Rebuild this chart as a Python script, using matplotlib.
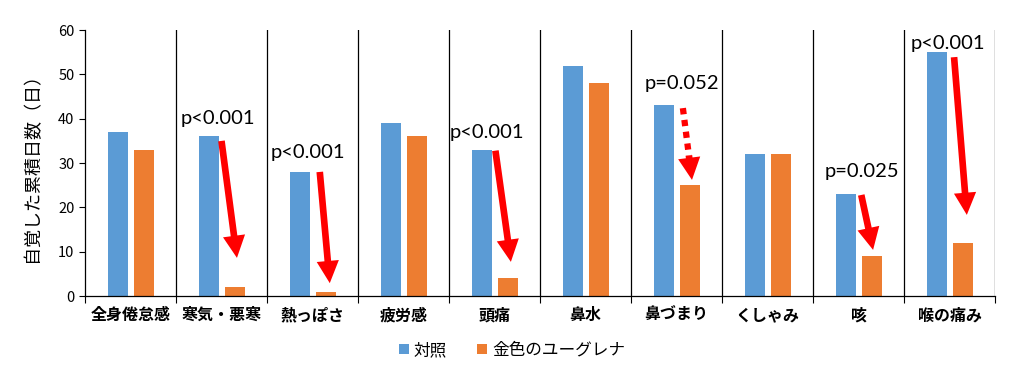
import matplotlib
matplotlib.use("Agg")
import matplotlib.pyplot as plt
import numpy as np
from matplotlib.patches import FancyArrowPatch

plt.rcParams['font.family'] = ['Noto Sans CJK JP', 'DejaVu Sans']

categories = ['全身倦怠感', '寒気・悪寒', '熱っぽさ', '疲労感', '頭痛', '鼻水', '鼻づまり', 'くしゃみ', '咳', '喉の痛み']
control = [37, 36, 28, 39, 33, 52, 43, 32, 23, 55]
euglena = [33, 2, 1, 36, 4, 48, 25, 32, 9, 12]
series_names = ['対照', '金色のユーグレナ']

# significance annotations
sig_cats = [1, 2, 4, 6, 8, 9]
sig_labels = ['p<0.001', 'p<0.001', 'p<0.001', 'p=0.052', 'p=0.025', 'p<0.001']
sig_text_y = [40, 32.3, 37, 48, 28.2, 57]
arrow_start = [35, 28, 32.8, 42.4, 22.8, 53.9]
arrow_end = [8.6, 2.9, 7.7, 26.2, 10.4, 18.3]
arrow_dotted = [False, False, False, True, False, False]

blue = '#5B9BD5'
orange = '#ED7D31'
red = '#FF0000'

fig = plt.figure(figsize=(10.14, 3.72), dpi=100)
ax = fig.add_axes([0.0838, 0.2043, 0.8975, 0.7147])

x = np.arange(len(categories)) + 0.5
w = 0.22
ax.bar(x - 0.135, control, width=w, color=blue, label=series_names[0], zorder=2)
ax.bar(x + 0.145, euglena, width=w, color=orange, label=series_names[1], zorder=2)

ax.set_xlim(0, len(categories))
ax.set_ylim(0, 60)
ax.set_yticks(range(0, 61, 10))
ax.tick_params(axis='y', labelsize=10.5, length=4, width=0.8)
ax.set_xticks(np.arange(len(categories) + 1))
ax.set_xticklabels([])
ax.tick_params(axis='x', length=5, width=0.8)
ax.set_xticks(x, minor=True)
ax.set_xticklabels(categories, minor=True, fontsize=11.5, fontweight='bold')
ax.tick_params(axis='x', which='minor', length=0, pad=8)

for s in ['top', 'right']:
    ax.spines[s].set_visible(False)
ax.spines['left'].set_linewidth(0.9)
ax.spines['bottom'].set_linewidth(0.9)

for b in range(1, len(categories) + 1):
    ax.axvline(b, color='black', linewidth=0.9, zorder=1)

ax.set_ylabel('自覚した累積日数（日）', fontsize=13, labelpad=12)

offs_text = [-0.04, -0.05, -0.08, 0.06, 0.04, -0.02]
offs_start = [0.0, 0.08, 0.01, 0.07, 0.03, 0.05]
offs_end = [0.17, 0.19, 0.18, 0.17, 0.16, 0.19]

style = 'simple,head_width=1.0,head_length=1.0,tail_width=0.3'
for i, c in enumerate(sig_cats):
    ax.text(c + 0.5 + offs_text[i], sig_text_y[i], sig_labels[i], ha='center', va='center',
            fontsize=14.5, family=['Lato', 'DejaVu Sans'], zorder=4)
    xs, ys = c + 0.5 + offs_start[i], arrow_start[i]
    xe, ye = c + 0.5 + offs_end[i], arrow_end[i]
    if not arrow_dotted[i]:
        arr = FancyArrowPatch((xs, ys), (xe, ye), arrowstyle=style,
                              mutation_scale=16, color=red, linewidth=0, zorder=5, shrinkA=0, shrinkB=0)
        ax.add_patch(arr)
    else:
        frac = 0.66
        xm, ym = xs + (xe - xs) * frac, ys + (ye - ys) * frac
        ax.plot([xs, xm], [ys, ym], color=red, linewidth=4.5, linestyle=(0, (1, 0.9)),
                solid_capstyle='butt', dash_capstyle='butt', zorder=5)
        arr = FancyArrowPatch((xm, ym), (xe, ye), arrowstyle=style,
                              mutation_scale=16, color=red, linewidth=0, zorder=5, shrinkA=0, shrinkB=0)
        ax.add_patch(arr)

leg = fig.legend(loc='center', bbox_to_anchor=(0.505, 0.058), ncol=2, frameon=False, fontsize=12,
                 handlelength=0.6, handleheight=0.6, handletextpad=0.3, columnspacing=1.8)

fig.savefig('out.png', dpi=100)
